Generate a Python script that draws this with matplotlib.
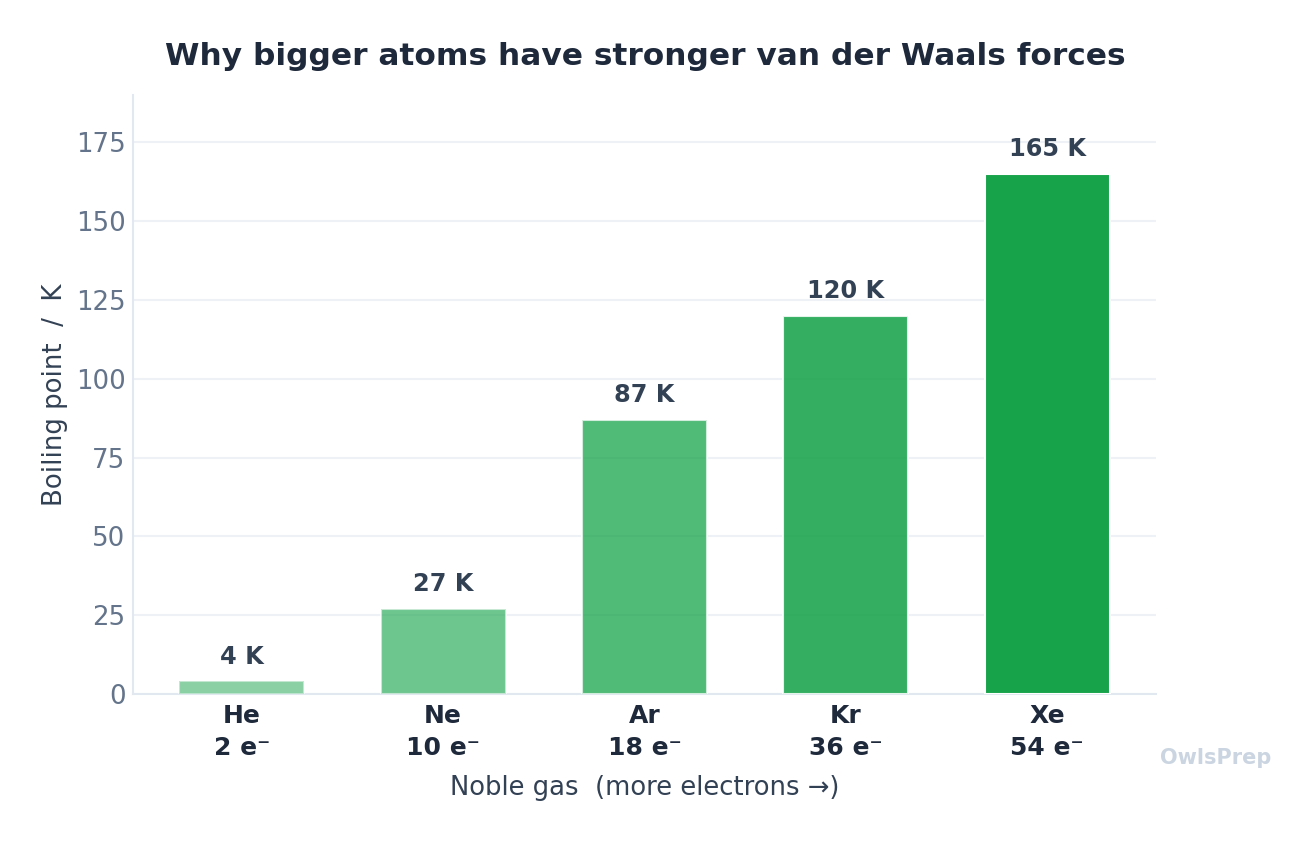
import numpy as np
from matplotlib import pyplot as plt
import matplotlib as mpl

mpl.rc('font', family='DejaVu Sans')

gases = ['He', 'Ne', 'Ar', 'Kr', 'Xe']
electrons = [2, 10, 18, 36, 54]
boiling_K = [4, 27, 87, 120, 165]
alphas = [0.5, 0.62, 0.75, 0.87, 1.0]

green = '#16a34a'
dark = '#1e293b'
slate = '#334155'
muted = '#64748b'
light = '#e2e8f0'

fig = plt.figure(facecolor='white', figsize=(8.76, 5.627), dpi=150)
ax = fig.add_axes([133/1314, 1 - 694/844, (1156-133)/1314, (694-95)/844])

x = np.arange(len(gases))
bars = ax.bar(x, boiling_K, width=0.62, color=green, edgecolor='white',
              linewidth=1.0, zorder=3)
for b, a in zip(bars, alphas):
    b.set_alpha(a)

for xi, v in zip(x, boiling_K):
    ax.annotate(f"{v} K", (xi, v), xytext=(0, 6), textcoords='offset points',
                ha='center', va='bottom', fontsize=11.5, fontweight='bold',
                color=slate)

ax.set_xlim(-0.54, 4.54)
ax.set_ylim(0, 190)
ax.set_yticks([0, 25, 50, 75, 100, 125, 150, 175])
ax.set_xticks(x)
ax.set_xticklabels([f"{g}\n{n} e\u207b" for g, n in zip(gases, electrons)],
                   fontsize=12, fontweight='bold', color=dark, linespacing=1.4)
ax.tick_params(axis='y', length=0, labelsize=12.5, labelcolor=muted, pad=3.6)
ax.tick_params(axis='x', length=0, pad=5)

ax.grid(axis='y', color='#eef2f6', linewidth=1.0, zorder=0)
for s in ['top', 'right']:
    ax.spines[s].set_visible(False)
for s in ['left', 'bottom']:
    ax.spines[s].set_color(light)
    ax.spines[s].set_linewidth(1.0)

ax.set_ylabel("Boiling point  /  K", fontsize=12.5, color=slate, labelpad=3.5)
ax.set_xlabel("Noble gas  (more electrons \u2192)", fontsize=12.45, color=slate,
              labelpad=7)
fig.text(645/1314, 1 - 56/844, "Why bigger atoms have stronger van der Waals forces",
         ha='center', va='center', fontsize=15, fontweight='bold', color=dark)
fig.text(1216/1314, 1 - 758/844, "OwlsPrep", ha='center', va='center',
         fontsize=10, fontweight='bold', color='#cbd5e1')

fig.savefig('out.png', dpi=150, facecolor='white')
